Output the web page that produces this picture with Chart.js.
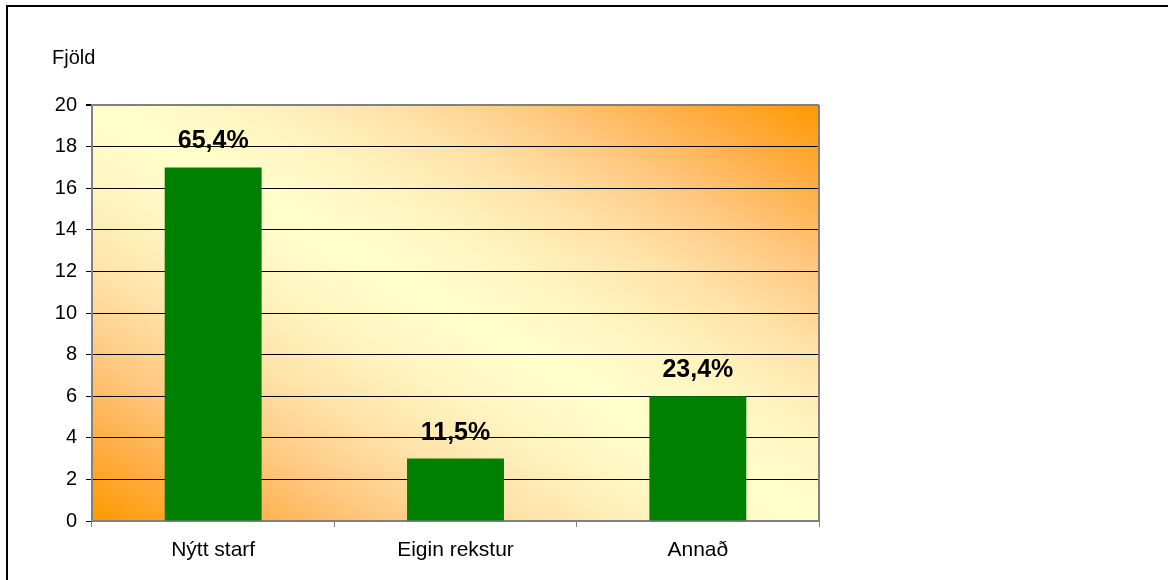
<!DOCTYPE html>
<html lang="is">
<head>
    <meta charset="UTF-8">
    <meta name="viewport" content="width=device-width, initial-scale=1.0">
    <script src="https://cdn.jsdelivr.net/npm/chart.js"></script>
    <title>Fjöld</title>
    <style>
        body {
            margin: 0;
            background-color: #fff;
            overflow: hidden;
        }
        .wrap {
            position: relative;
            width: 1168px;
            height: 580px;
        }
        .frame {
            position: absolute;
            left: 6px;
            top: 5px;
            width: 1170px;
            height: 590px;
            border-top: 2px solid #000;
            border-left: 2px solid #000;
        }
        #fjoldi {
            position: absolute;
            left: 0;
            top: 0;
        }
    </style>
</head>
<body>

<div class="wrap">
    <div class="frame"></div>
    <canvas id="fjoldi" width="1168" height="580"></canvas>
</div>

<script>
    // Gögn
    const flokkar = ['Nýtt starf', 'Eigin rekstur', 'Annað'];
    const fjoldi = [17, 3, 6];
    const hlutfall = ['65,4%', '11,5%', '23,4%'];
    const yTicks = [0, 2, 4, 6, 8, 10, 12, 14, 16, 18, 20];

    const leturgerd = '"Liberation Sans", Arial, sans-serif';

    // Bakgrunnur teiknisvæðis: skáhallur litaskali, appelsínugult í hornum
    const bakgrunnur = {
        id: 'bakgrunnur',
        beforeDraw(chart) {
            const { ctx, chartArea: a } = chart;
            ctx.save();
            ctx.translate(a.left, a.top);
            ctx.scale(a.right - a.left, a.bottom - a.top);
            const g = ctx.createLinearGradient(0, 1, 1, 0);
            const stops = [
                [0, '#FF9900'], [0.1, '#FFAD45'], [0.2, '#FFC880'],
                [0.3, '#FFE2A8'], [0.4, '#FFF4C0'], [0.5, '#FFFFCC']
            ];
            stops.forEach(([t, c]) => {
                g.addColorStop(t, c);
                g.addColorStop(1 - t, c);
            });
            ctx.fillStyle = g;
            ctx.fillRect(0, 0, 1, 1);
            ctx.restore();

            // titill y-áss
            ctx.save();
            ctx.font = '20px ' + leturgerd;
            ctx.fillStyle = '#000';
            ctx.textBaseline = 'alphabetic';
            ctx.fillText('Fjöld', 52, 64);
            ctx.restore();
        },
        afterDatasetsDraw(chart) {
            const { ctx, chartArea: a } = chart;
            // hægri rammi
            ctx.save();
            ctx.strokeStyle = '#808080';
            ctx.lineWidth = 2;
            ctx.beginPath();
            ctx.moveTo(a.right, a.top);
            ctx.lineTo(a.right, a.bottom);
            ctx.stroke();
            ctx.restore();

            // prósentur fyrir ofan súlur
            const meta = chart.getDatasetMeta(0);
            ctx.save();
            ctx.font = 'bold 25px ' + leturgerd;
            ctx.fillStyle = '#000';
            ctx.textAlign = 'center';
            ctx.textBaseline = 'alphabetic';
            meta.data.forEach((bar, i) => {
                ctx.fillText(hlutfall[i], bar.x, bar.y - 19);
            });
            ctx.restore();
        }
    };

    const ctx = document.getElementById('fjoldi');

    new Chart(ctx, {
        type: 'bar',
        data: {
            labels: flokkar,
            datasets: [{
                data: fjoldi,
                backgroundColor: '#008000',
                borderWidth: 0,
                barPercentage: 0.4,
                categoryPercentage: 1.0
            }]
        },
        options: {
            responsive: false,
            animation: false,
            devicePixelRatio: 1,
            layout: {
                padding: { top: 105, right: 349, left: 0, bottom: 0 }
            },
            plugins: {
                legend: { display: false },
                tooltip: { enabled: false }
            },
            scales: {
                x: {
                    afterFit(scale) { scale.height = 59; },
                    grid: {
                        offset: true,
                        drawOnChartArea: false,
                        drawTicks: true,
                        tickLength: 6,
                        color: '#808080'
                    },
                    border: { display: true, color: '#808080', width: 2 },
                    ticks: {
                        color: '#000',
                        padding: 11,
                        font: { family: leturgerd, size: 21 }
                    }
                },
                y: {
                    min: 0,
                    max: 20,
                    afterFit(scale) { scale.width = 92; },
                    afterBuildTicks(scale) {
                        scale.ticks = yTicks.map(v => ({ value: v }));
                    },
                    grid: {
                        color: c => (c.tick && (c.tick.value === 20 || c.tick.value === 0)) ? '#808080' : '#000',
                        lineWidth: c => (c.tick && c.tick.value === 20) ? 2 : 1,
                        tickColor: '#000',
                        tickLength: 6
                    },
                    border: { display: true, color: '#808080', width: 2 },
                    ticks: {
                        color: '#000',
                        padding: 9,
                        font: { family: leturgerd, size: 20 }
                    }
                }
            }
        },
        plugins: [bakgrunnur]
    });
</script>

</body>
</html>
